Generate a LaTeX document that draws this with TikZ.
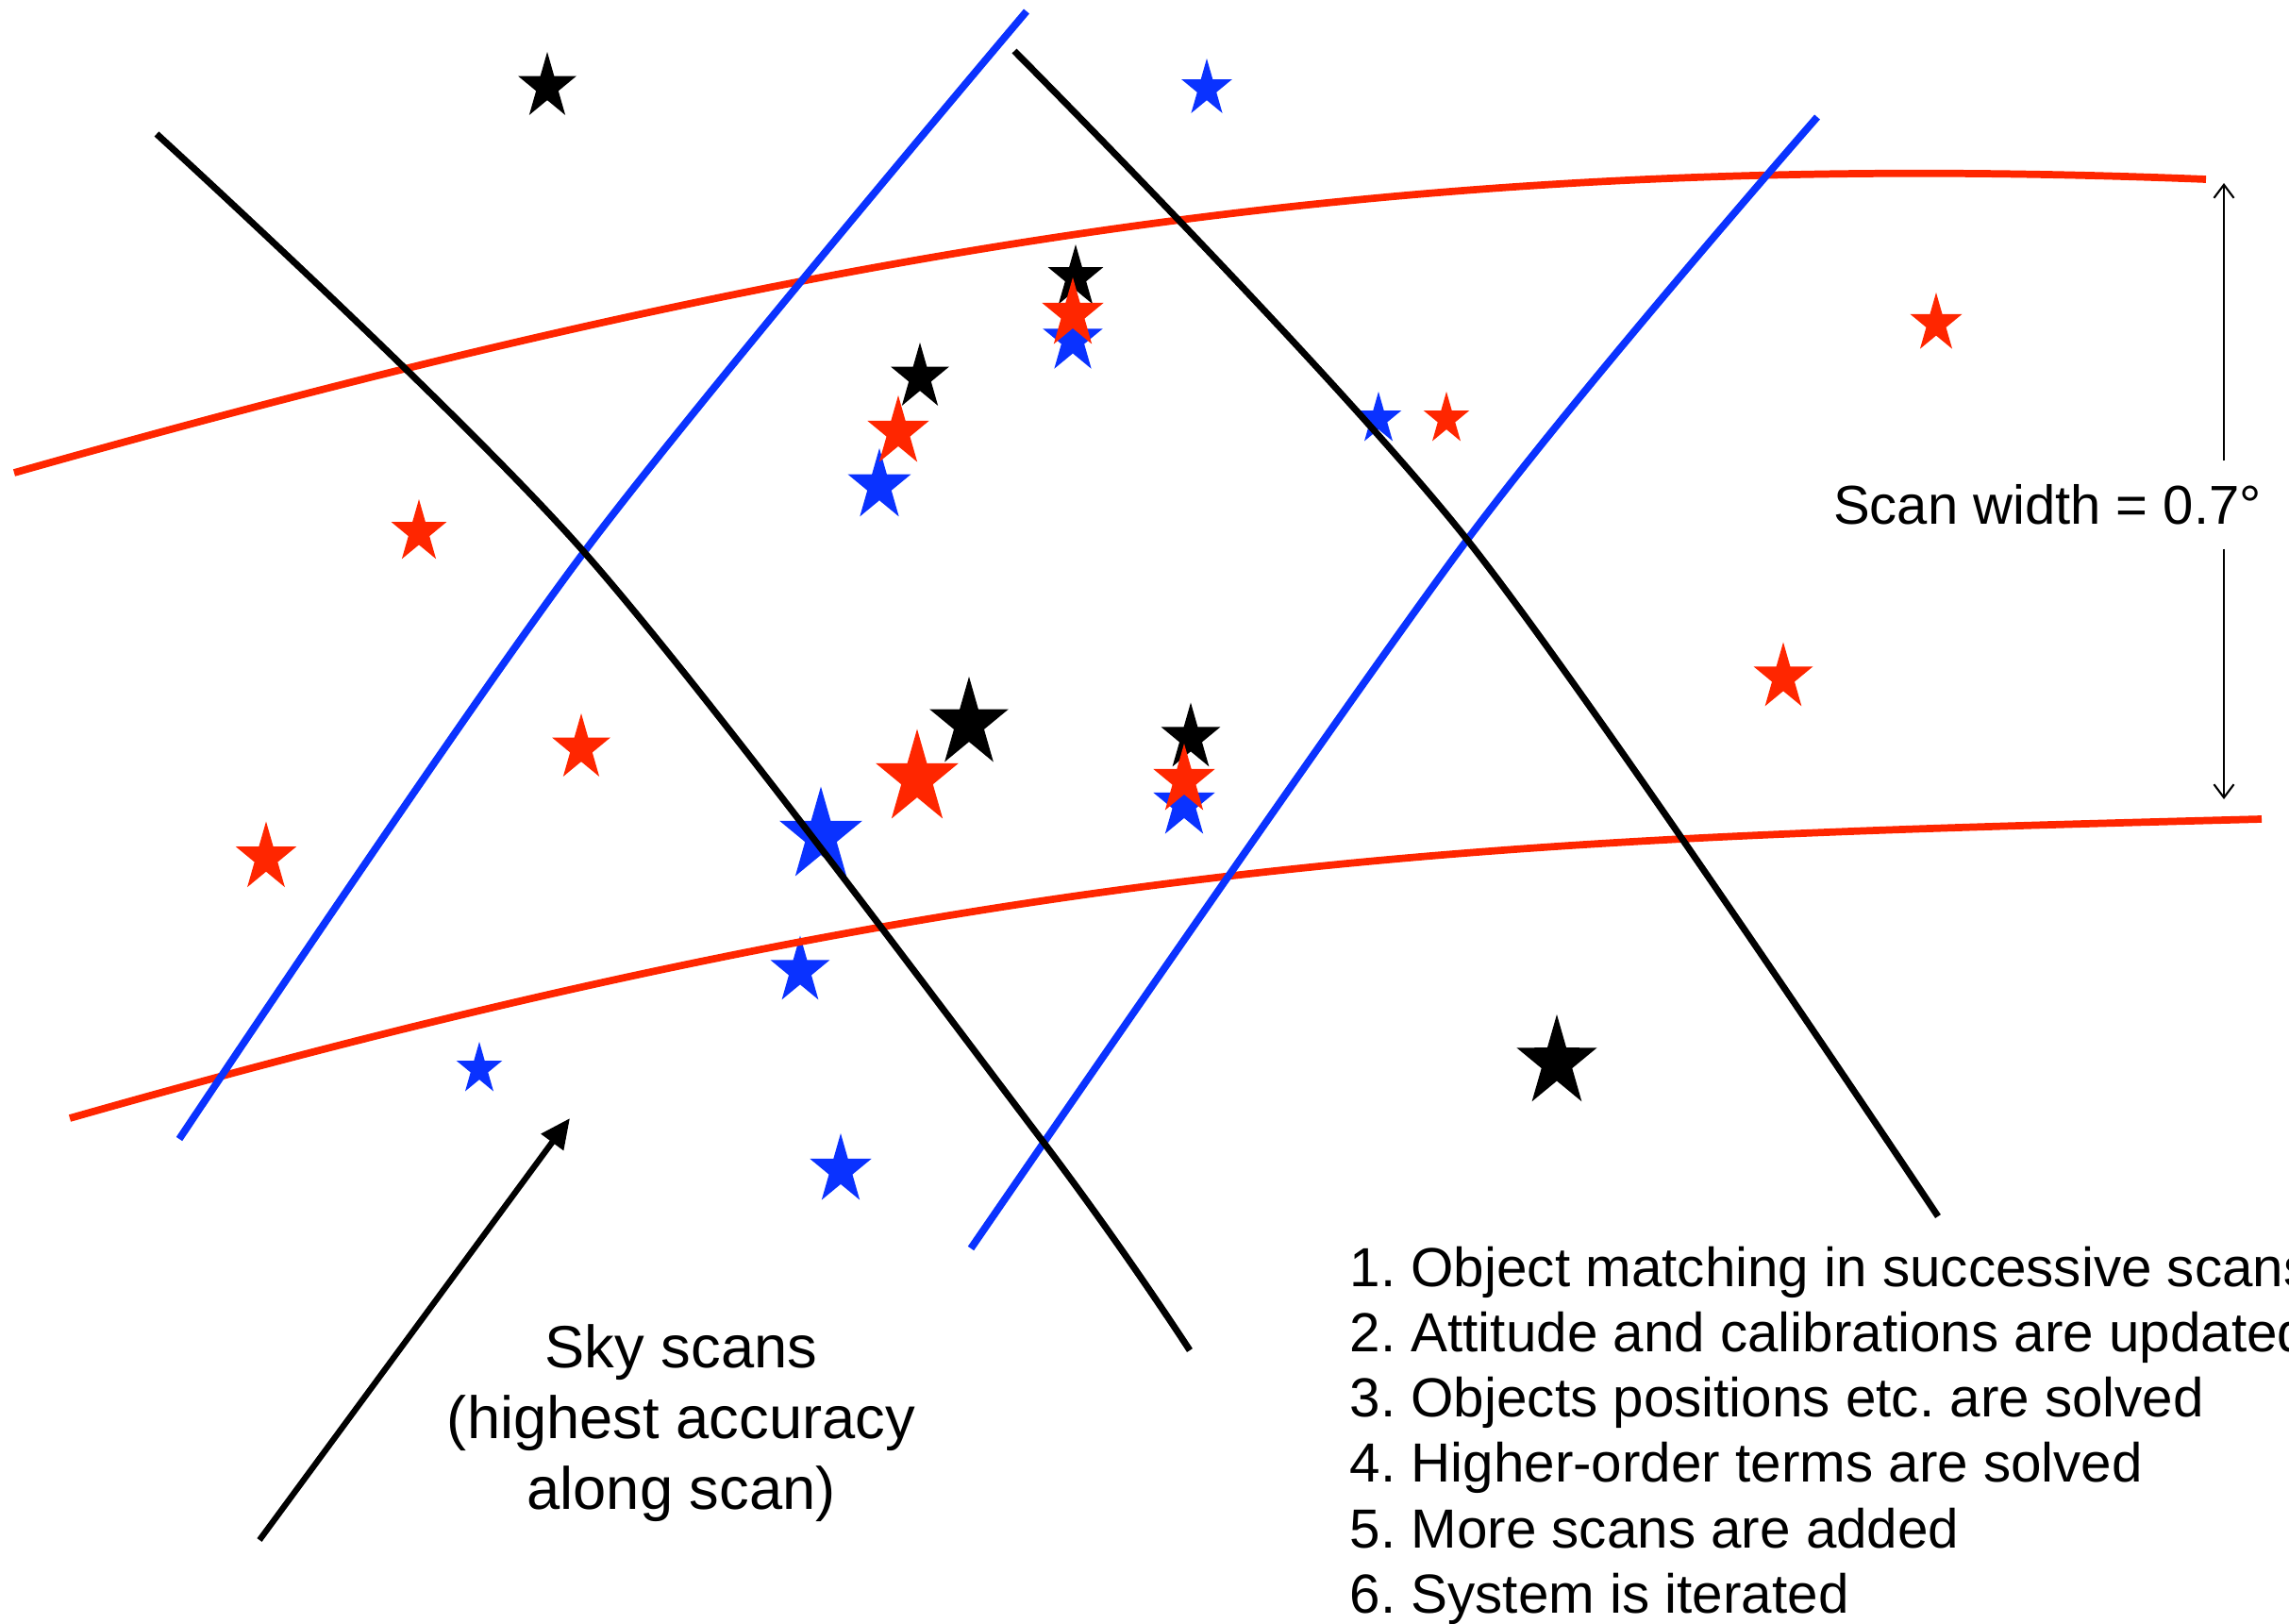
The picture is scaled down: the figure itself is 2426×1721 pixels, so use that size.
\documentclass[tikz,border=0pt]{standalone}
\usepackage{fontspec}
\setmainfont{Liberation Sans}
\usetikzlibrary{arrows.meta}
\definecolor{skyred}{RGB}{255,38,0}
\definecolor{skyblue}{RGB}{10,50,255}
\frenchspacing

\begin{document}
\begin{tikzpicture}[
    x=0.01cm, y=-0.01cm,
    blackscan/.style={draw=black, line width=2pt},
    redscan/.style={draw=skyred, line width=2.2pt},
    bluescan/.style={draw=skyblue, line width=2.2pt},
    dimarr/.style={-{Straight Barb[length=4pt, width=6pt]}, line width=0.6pt},
    bigarr/.style={-{Triangle[length=9pt, width=8pt]}, line width=1.8pt},
    pics/skystar/.style={code={
        \fill[pic actions, xscale=0.88*#1, yscale=#1] (-90:1) -- (-54:.382) -- (-18:1) -- (18:.382) -- (54:1)
            -- (90:.382) -- (126:1) -- (162:.382) -- (198:1) -- (234:.382) -- cycle;
    }},
]
    \useasboundingbox (0,0) rectangle (2426,1721);
    \clip (0,0) rectangle (2426,1721);

    % Stars (black first, red on top)
    \foreach \sx/\sy/\sr/\sc in {
        580/92/37/black, 1140/294/35/black, 975/400/37/black, 1027/767/50/black,
        1262/782/37.5/black, 1650/1126/51/black,
        1279/94/32/skyblue, 1137/360/38/skyblue, 932/515/40/skyblue, 1461/444/29/skyblue,
        1255/852/39/skyblue, 870/886/52.5/skyblue, 848/1029/37.5/skyblue, 508/1133/29/skyblue,
        891/1240/39/skyblue,
        1137/333/39/skyred, 952/458/39/skyred, 444/564/35/skyred, 1533/444/29/skyred,
        2052/343/33/skyred, 1890/718/37.5/skyred, 1255/827/39/skyred, 972/825/52.5/skyred,
        616/793/37/skyred, 282/909/38.5/skyred}
        \pic[fill=\sc] at (\sx,\sy) {skystar=\sr};

    % Scans
    \draw[redscan] (15,501) .. controls (915,246) and (1538,158) .. (2338,190);
    \draw[redscan] (74,1185) .. controls (1074,900) and (1597,889) .. (2397,868);
    \draw[bluescan] plot[smooth] coordinates {(190,1207) (619,585) (1088,12)};
    \draw[bluescan] plot[smooth] coordinates {(1029,1323) (1555,572) (1926,124)};
    \draw[blackscan] plot[smooth] coordinates {(166,142) (619,585) (1101,1204) (1261,1431)};
    \draw[blackscan] plot[smooth] coordinates {(1075,54) (1555,572) (2054,1289)};

    % Scan width
    \node[font=\fontsize{16.5}{20}\selectfont, inner xsep=0pt, inner ysep=7pt] (widthlabel) at (2170,535) {Scan width = 0.7°};
    \coordinate (widthtop) at (2357,194);
    \coordinate (widthbot) at (2357,847);
    \draw[dimarr] (widthlabel.north -| widthtop) -- (widthtop);
    \draw[dimarr] (widthlabel.south -| widthtop) -- (widthbot);

    % Scan direction
    \coordinate (scantail) at (275,1632);
    \coordinate (scantip) at (604,1185);
    \draw[bigarr] (scantail) -- (scantip);
    \node[font=\fontsize{18}{21.3}\selectfont, align=center, inner sep=0pt] (skylabel) at (722,1508)
        {Sky scans\\(highest accuracy\\along scan)};

    % Steps
    \node[font=\fontsize{16.6}{19.7}\selectfont, align=left, anchor=north west, inner sep=0pt] (steps) at (1430,1320)
        {1. Object matching in successive scans\\2. Attitude and calibrations are updated\\3. Objects positions etc. are solved\\4. Higher-order terms are solved\\5. More scans are added\\6. System is iterated};
\end{tikzpicture}
\end{document}
